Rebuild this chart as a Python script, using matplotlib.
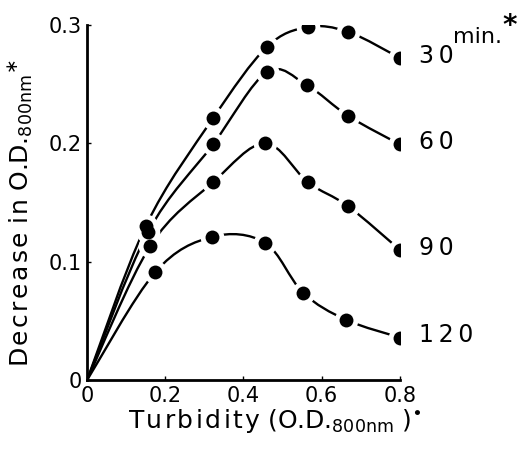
import numpy as np
import matplotlib
matplotlib.use("Agg")
import matplotlib.pyplot as plt
from matplotlib.path import Path
from matplotlib.patches import PathPatch

# data: turbidity vs decrease in O.D.800nm, per time (min)
times = ["30", "60", "90", "120"]
x_30 = [0.150, 0.322, 0.459, 0.564, 0.668, 0.800]
y_30 = [0.130, 0.221, 0.281, 0.298, 0.294, 0.272]
x_60 = [0.156, 0.322, 0.460, 0.562, 0.668, 0.800]
y_60 = [0.125, 0.199, 0.260, 0.249, 0.223, 0.199]
x_90 = [0.161, 0.322, 0.455, 0.565, 0.667, 0.800]
y_90 = [0.113, 0.167, 0.200, 0.167, 0.147, 0.110]
x_120 = [0.174, 0.320, 0.455, 0.552, 0.662, 0.800]
y_120 = [0.091, 0.121, 0.116, 0.074, 0.051, 0.036]

series = [(x_30, y_30), (x_60, y_60), (x_90, y_90), (x_120, y_120)]

xticks = [0, 0.2, 0.4, 0.6, 0.8]
xticklabels = ["0", "0.2", "0.4", "0.6", "0.8"]
yticks = [0, 0.1, 0.2, 0.3]
yticklabels = ["0", "0.1", "0.2", "0.3"]

HS = "\u200a"  # hair space, the original lettering is spaced out


def spaced(s):
    return HS.join(s)


def smooth_path(xs, ys):
    """Catmull-Rom curve through the points, as cubic bezier path."""
    pts = np.column_stack([xs, ys])
    ext = np.vstack([pts[0], pts, pts[-1]])
    verts = [pts[0]]
    codes = [Path.MOVETO]
    for i in range(1, len(ext) - 2):
        p0, p1, p2, p3 = ext[i - 1], ext[i], ext[i + 1], ext[i + 2]
        verts += [p1 + (p2 - p0) / 6.0, p2 - (p3 - p1) / 6.0, p2]
        codes += [Path.CURVE4] * 3
    return Path(verts, codes)


plt.rcParams['font.family'] = ['DejaVu Sans']
plt.rcParams['mathtext.fontset'] = 'dejavusans'

fig = plt.figure(figsize=(5.18, 4.51), dpi=100)
ax = fig.add_axes([0.168, 0.157, 0.604, 0.788])

for xs, ys in series:
    # curves start from the origin
    path = smooth_path([0.0] + xs, [0.0] + ys)
    ax.add_patch(PathPatch(path, facecolor='none', edgecolor='black',
                           lw=1.7, zorder=2, capstyle='butt'))
    ax.plot(xs, ys, 'o', ms=17, color='white', mew=0, zorder=3)
    ax.plot(xs, ys, 'o', ms=10, color='black', mew=0, zorder=4)

for (xs, ys), t in zip(series, times):
    ax.text(0.848, ys[-1] + 0.002, "\u2009".join(t), fontsize=17,
            ha='left', va='center', clip_on=False)

ax.text(0.935, 0.285, 'min.', fontsize=16, ha='left', va='baseline')
ax.text(1.062, 0.287, '*', fontsize=20, fontweight='bold', ha='left', va='bottom')

ax.set_xlim(0, 0.8)
ax.set_ylim(0, 0.3)
ax.set_xticks(xticks)
ax.set_xticklabels(xticklabels)
ax.set_yticks(yticks)
ax.set_yticklabels(yticklabels)
ax.tick_params(direction='in', length=3, width=1, labelsize=15, pad=4)

for s in ['top', 'right']:
    ax.spines[s].set_visible(False)
for s in ['left', 'bottom']:
    ax.spines[s].set_linewidth(2)

ax.set_xlabel(spaced('Turbidity') + ' (O.D.' + r'$_{\mathrm{800nm}}$' + ' )' + r'$^{\bullet}$',
              fontsize=18)
ax.set_ylabel(spaced('Decrease') + ' ' + spaced('in') + ' O.D.' + r'$_{\mathrm{800nm}}$' + r'$^{\ast}$',
              fontsize=18)
ax.xaxis.set_label_coords(0.6, -0.075)
ax.yaxis.set_label_coords(-0.165, 0.47)

plt.savefig('out.png', dpi=100)
